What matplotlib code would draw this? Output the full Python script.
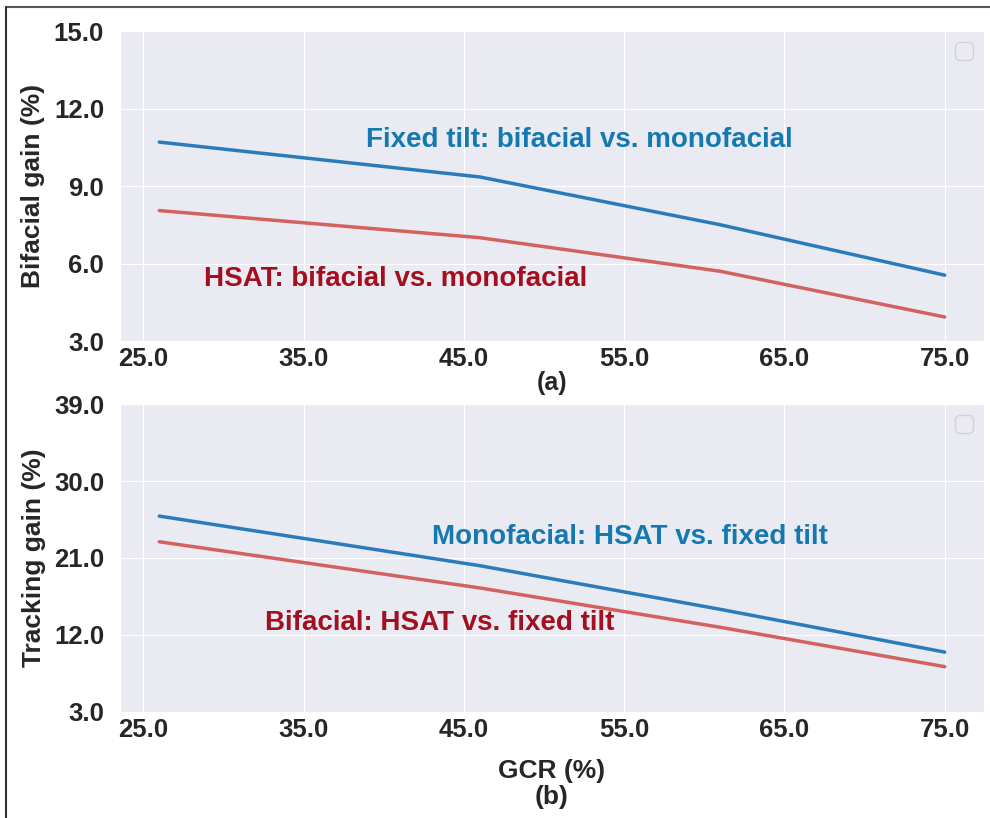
import matplotlib
matplotlib.use("Agg")
import matplotlib.pyplot as plt
import seaborn as sns
from matplotlib.lines import Line2D

# GCR values (%)
gcr = [26, 46, 61, 75]

# (a) bifacial gain (%)
fixed_bifacial_gain = [10.7, 9.35, 7.5, 5.55]
hsat_bifacial_gain = [8.05, 7.0, 5.7, 3.93]

# (b) tracking gain (%)
mono_tracking_gain = [25.9, 20.1, 15.0, 10.0]
bifa_tracking_gain = [22.9, 17.5, 12.9, 8.3]

top_yticks = [3.0, 6.0, 9.0, 12.0, 15.0]
bot_yticks = [3.0, 12.0, 21.0, 30.0, 39.0]
xticks = [25.0, 35.0, 45.0, 55.0, 65.0, 75.0]

sns.set_style("darkgrid")
plt.rcParams['font.family'] = ['Liberation Sans', 'DejaVu Sans']
plt.rcParams['font.weight'] = 'bold'

line_blue = '#2b7bba'
line_red = '#d3615f'
text_blue = '#1479b0'
text_red = '#a30f1e'

fig = plt.figure(figsize=(9.9, 8.18), dpi=100)
ax1 = fig.add_axes([0.1212, 0.5831, 0.8727, 0.379])
ax2 = fig.add_axes([0.1212, 0.1296, 0.8727, 0.3765])

ax1.plot(gcr, fixed_bifacial_gain, color=line_blue, lw=2.5)
ax1.plot(gcr, hsat_bifacial_gain, color=line_red, lw=2.5)
ax1.text(38.9, 10.8, "Fixed tilt: bifacial vs. monofacial", color=text_blue,
         fontsize=20, fontweight='bold', va='center')
ax1.text(28.8, 5.4, "HSAT: bifacial vs. monofacial", color=text_red,
         fontsize=20, fontweight='bold', va='center')
ax1.set_ylim(3, 15)
ax1.set_yticks(top_yticks)
ax1.set_ylabel("Bifacial gain (%)", fontsize=19, fontweight='bold', labelpad=6)
ax1.set_xlabel("(a)", fontsize=18, fontweight='bold', labelpad=0)

ax2.plot(gcr, mono_tracking_gain, color=line_blue, lw=2.5)
ax2.plot(gcr, bifa_tracking_gain, color=line_red, lw=2.5)
ax2.text(43.0, 23.45, "Monofacial: HSAT vs. fixed tilt", color=text_blue,
         fontsize=20, fontweight='bold', va='center')
ax2.text(32.6, 13.4, "Bifacial: HSAT vs. fixed tilt", color=text_red,
         fontsize=20, fontweight='bold', va='center')
ax2.set_ylim(3, 39)
ax2.set_yticks(bot_yticks)
ax2.set_ylabel("Tracking gain (%)", fontsize=19, fontweight='bold', labelpad=6)
ax2.set_xlabel("GCR (%)\n(b)", fontsize=19, fontweight='bold', labelpad=12,
               linespacing=1.1)

for ax in (ax1, ax2):
    ax.set_xticks(xticks)
    ax.set_xticklabels([f"{v:.1f}" for v in xticks])
    ax.set_yticklabels([f"{v:.1f}" for v in ax.get_yticks()])
    ax.tick_params(labelsize=18.5, colors='#262626')
    ax.tick_params(axis='x', pad=1)
    ax.tick_params(axis='y', pad=8)
    for lab in ax.get_xticklabels() + ax.get_yticklabels():
        lab.set_fontweight('bold')
    ax.legend(handles=[], loc='upper right', fontsize=16)

# frame lines at the top and left of the picture
fig.add_artist(Line2D([0.006, 1.0], [0.9915, 0.9915], color='#555555', lw=1.5,
                      transform=fig.transFigure))
fig.add_artist(Line2D([0.0065, 0.0065], [0.0, 0.9915], color='#333333', lw=1.5,
                      transform=fig.transFigure))

fig.savefig("out.png", dpi=100)
